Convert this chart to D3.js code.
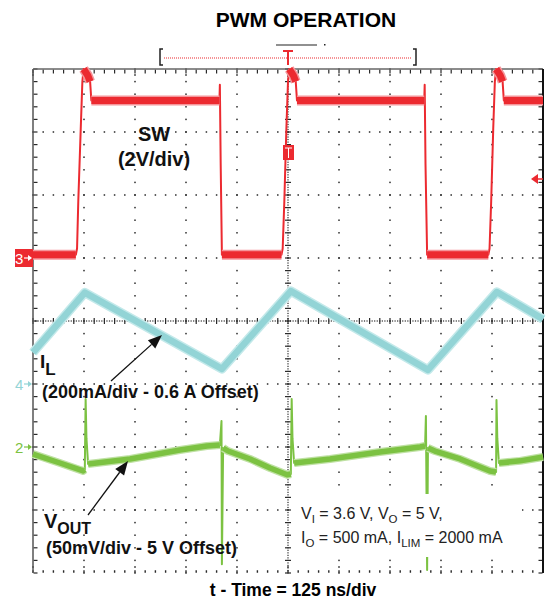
<!DOCTYPE html>
<html><head><meta charset="utf-8">
<script src="https://cdn.jsdelivr.net/npm/d3@7"></script>
<style>
body{margin:0;background:#fff;}
svg{display:block;font-family:"Liberation Sans",Arial,Helvetica,sans-serif;}
</style>
</head><body>
<svg id="c" width="552" height="612"></svg>
<script>
// ---------- data (time in ns, 125 ns/div) ----------
const swTime  = [0,105,108,111,117,121,124,134,140,143,457,458,460,463,609,612,616,621,625,628,638,644,647,959,960,962,966,1116,1119,1123,1128,1132,1135,1145,1151,1154,1250];
const swVolts = [0.1,0.1,0.3,1.8,4.1,5.6,6.0,5.8,5.6,5.0,5.0,5.5,3.0,0.1,0.1,0.3,1.8,4.1,5.6,6.0,5.8,5.6,5.0,5.0,5.5,3.0,0.1,0.1,0.3,1.8,4.1,5.6,6.0,5.8,5.6,5.0,5.0];

const ilTime = [0,127,463,632,968,1137,1250];
const ilAmps = [0.70,0.89,0.648,0.895,0.645,0.892,0.806];

const voTime = [0,66,123,127,129,131,135,238,360,426,458,462,463,466,478,532,581,623,632,634,636,640,728,850,949,961,963,966,968,985,1047,1120,1135,1136,1138,1142,1194,1250];
const voMilliVolts = [-5.6,-12.7,-19,-18,38,7,-13.5,-9.5,-2.4,0.8,1.6,20.6,-93,-0.8,-3.2,-9.5,-16.7,-22,-21.4,38,7,-12.7,-9.5,-4,0,0.8,24.6,-97.6,-0.8,-3.2,-9.5,-19,-19.8,37.3,7,-12.7,-11,-7.9];

const channelNames = ["3","4","2"];
const channelOffsetDiv = [1,-1,-2];   // ground / offset marker positions in divisions
const xDivisions = d3.range(0, 11);
const yDivisions = d3.range(-4, 5);

// ---------- scales ----------
const svg = d3.select("#c");
const L = 33, R = 543, T = 69, B = 573;
const xT = d3.scaleLinear().domain([0, 1250]).range([L, R]);
const xD = d3.scaleLinear().domain([0, 10]).range([L, R]);
const yD = d3.scaleLinear().domain([-4, 4]).range([B, T]);
const ySW = d3.scaleLinear().domain([0, 2]).range([yD(channelOffsetDiv[0]), yD(channelOffsetDiv[0] + 1)]);
const yIL = d3.scaleLinear().domain([0.6, 0.8]).range([yD(channelOffsetDiv[1]), yD(channelOffsetDiv[1] + 1)]);
const yVO = d3.scaleLinear().domain([0, 50]).range([yD(channelOffsetDiv[2]), yD(channelOffsetDiv[2] + 1)]);

// ---------- grid ----------
const g = svg.append("g");
const dotC = "#2a2a2a";
const minorX = d3.range(0, 10.001, 0.2);
const minorY = d3.range(-4, 4.001, 0.2);
function dot(px, py, w, h) {
  g.append("rect").attr("x", px - w/2).attr("y", py - h/2).attr("width", w).attr("height", h).attr("fill", dotC);
}
xDivisions.filter(d => d > 0 && d < 10 && d !== 5).forEach(d => {
  minorY.forEach(m => dot(xD(d), yD(m), 1.5, 1.5));
});
yDivisions.filter(d => d > -4 && d < 4 && d !== 0).forEach(d => {
  minorX.forEach(m => dot(xD(m), yD(d), 1.5, 1.5));
});
// centre lines
d3.range(0, 10.001, 0.05).forEach(m => dot(xD(m), yD(0), 1.2, 1.2));
minorX.forEach(m => dot(xD(m), yD(0), 1.2, 6));
d3.range(-4, 4.001, 0.04).forEach(m => dot(xD(5), yD(m), 1.2, 1.2));
minorY.forEach(m => dot(xD(5), yD(m), 6, 1.2));
// edges
minorX.forEach(m => { dot(xD(m), T + 2.5, 1.2, 4); dot(xD(m), B - 1.5, 1.4, 2.5); });
minorY.forEach(m => { dot(L + 2.5, yD(m), 4, 1.2); dot(R - 2.5, yD(m), 4, 1.2); });
xDivisions.forEach(d => { dot(xD(d), T + 6, 1.2, 2); dot(xD(d), B - 6, 1.2, 2); });
g.append("line").attr("x1", L).attr("x2", R).attr("y1", T).attr("y2", T).attr("stroke", "#666").attr("stroke-width", 1.5);
g.append("line").attr("x1", L).attr("x2", L).attr("y1", T).attr("y2", B).attr("stroke", "#555").attr("stroke-width", 1.5);
g.append("line").attr("x1", R).attr("x2", R).attr("y1", T).attr("y2", B).attr("stroke", "#111").attr("stroke-width", 2);

// ---------- traces ----------
const line = d3.line().x(d => d[0]).y(d => d[1]);
function drawTrace(pts, color, light, thinW, bandW, coreW, slopeMax) {
  const tg = svg.append("g").attr("fill", "none").attr("stroke-linejoin", "round");
  tg.append("path").attr("d", line(pts)).attr("stroke", color).attr("stroke-width", thinW);
  const runs = []; let cur = null;
  for (let i = 0; i < pts.length - 1; i++) {
    const a = pts[i], b = pts[i + 1];
    if (Math.abs(b[1] - a[1]) <= slopeMax * Math.abs(b[0] - a[0])) {
      if (!cur) { cur = [a]; runs.push(cur); }
      cur.push(b);
    } else cur = null;
  }
  runs.forEach(r => {
    tg.append("path").attr("d", line(r)).attr("stroke", light).attr("stroke-width", bandW).attr("stroke-linecap", "butt");
    tg.append("path").attr("d", line(r)).attr("stroke", color).attr("stroke-width", coreW).attr("stroke-linecap", "butt");
  });
}
drawTrace(swTime.map((t, i) => [xT(t), ySW(swVolts[i])]), "#ec2a30", "#f5959a", 2, 10, 7, 3);
drawTrace(ilTime.map((t, i) => [xT(t), yIL(ilAmps[i])]), "#93d4d6", "#c3e9ea", 2, 9.5, 6.5, 3);
drawTrace(voTime.map((t, i) => [xT(t), yVO(voMilliVolts[i])]), "#7cc242", "#bfe1a3", 2, 8, 5.5, 3);

// ---------- channel markers ----------
const mk = svg.append("g");
const markerColors = ["#ec2a30", "#93d4d6", "#7cc242"];
channelOffsetDiv.forEach((d, i) => {
  const yy = yD(d);
  const fg = i === 0 ? "#fff" : markerColors[i];
  if (i === 0) mk.append("rect").attr("x", 15).attr("y", yy - 9).attr("width", 18).attr("height", 18).attr("fill", markerColors[0]);
  mk.append("text").attr("x", 15).attr("y", yy + 5.5).attr("font-size", 15).attr("fill", fg).text(channelNames[i]);
  mk.append("line").attr("x1", 24).attr("x2", 31).attr("y1", yy).attr("y2", yy).attr("stroke", fg).attr("stroke-width", 1.2);
  mk.append("path").attr("d", `M32,${yy} L28,${yy - 3} L28,${yy + 3} Z`).attr("fill", fg);
});
// trigger level arrow (right) and trigger marker
mk.append("path").attr("d", "M531,179 L538,174 L538,184 Z").attr("fill", "#ec2a30");
mk.append("line").attr("x1", 536).attr("x2", 543).attr("y1", 179).attr("y2", 179).attr("stroke", "#ec2a30").attr("stroke-width", 1.5);
mk.append("rect").attr("x", 283).attr("y", 145).attr("width", 11).attr("height", 15).attr("fill", "#ec2a30");
mk.append("line").attr("x1", 285).attr("x2", 292).attr("y1", 148).attr("y2", 148).attr("stroke", "#fff").attr("stroke-width", 1);
mk.append("line").attr("x1", 288.5).attr("x2", 288.5).attr("y1", 148).attr("y2", 158).attr("stroke", "#fff").attr("stroke-width", 1);

// ---------- top record bar ----------
const recBar = svg.append("g");
recBar.append("path").attr("d", "M163,49 L160,49 L160,65 L163,65").attr("fill", "none").attr("stroke", "#222").attr("stroke-width", 1.5);
recBar.append("path").attr("d", "M413,49 L416,49 L416,65 L413,65").attr("fill", "none").attr("stroke", "#222").attr("stroke-width", 1.5);
recBar.append("line").attr("x1", 164).attr("x2", 412).attr("y1", 58).attr("y2", 58).attr("stroke", "#ec2a30").attr("stroke-width", 1.2).attr("stroke-dasharray", "1,1");
recBar.append("path").attr("d", "M283,51 L293,51 M288,51 L288,65").attr("stroke", "#ec2a30").attr("stroke-width", 2).attr("fill", "none");
recBar.append("line").attr("x1", 276).attr("x2", 317).attr("y1", 45).attr("y2", 45).attr("stroke", "#222").attr("stroke-width", 1.2);
recBar.append("rect").attr("x", 324).attr("y", 44).attr("width", 1.5).attr("height", 1.5).attr("fill", "#222");

// ---------- text ----------
svg.append("text").attr("x", 306).attr("y", 27).attr("text-anchor", "middle").attr("font-size", 21).attr("font-weight", "bold").text("PWM OPERATION");
svg.append("text").attr("x", 293).attr("y", 596).attr("text-anchor", "middle").attr("font-size", 17.5).attr("font-weight", "bold").text("t - Time = 125 ns/div");

const lab = svg.append("g").attr("font-weight", "bold").attr("fill", "#111");
lab.append("text").attr("x", 154).attr("y", 141).attr("text-anchor", "middle").attr("font-size", 20).text("SW");
lab.append("text").attr("x", 154).attr("y", 166).attr("text-anchor", "middle").attr("font-size", 20).text("(2V/div)");

const il = lab.append("text").attr("x", 40).attr("y", 368).attr("font-size", 19);
il.append("tspan").text("I");
il.append("tspan").attr("dy", 7).attr("font-size", 17).text("L");
lab.append("text").attr("x", 42).attr("y", 398).attr("font-size", 18).text("(200mA/div - 0.6 A Offset)");

const vo = lab.append("text").attr("x", 44).attr("y", 528).attr("font-size", 20);
vo.append("tspan").text("V");
vo.append("tspan").attr("dy", 6).attr("font-size", 16).text("OUT");
lab.append("text").attr("x", 46).attr("y", 554).attr("font-size", 18).text("(50mV/div - 5 V Offset)");

// arrows
function arrow(x1, y1, x2, y2) {
  const a = svg.append("g");
  const ang = Math.atan2(y2 - y1, x2 - x1), len = 14, hw = 5.5;
  const bx = x2 - len * Math.cos(ang), by = y2 - len * Math.sin(ang);
  a.append("line").attr("x1", x1).attr("y1", y1).attr("x2", bx).attr("y2", by).attr("stroke", "#111").attr("stroke-width", 1.3);
  const px = -Math.sin(ang) * hw, py = Math.cos(ang) * hw;
  a.append("path").attr("d", `M${x2},${y2} L${bx + px},${by + py} L${bx - px},${by - py} Z`).attr("fill", "#111");
}
arrow(111, 381, 162, 335);
arrow(88, 515, 128, 461);

// info box
svg.append("rect").attr("x", 292).attr("y", 494).attr("width", 230).attr("height", 63).attr("fill", "#fff");
const info = svg.append("g").attr("font-size", 16).attr("fill", "#222");
const l1 = info.append("text").attr("x", 301).attr("y", 519);
l1.append("tspan").text("V");
l1.append("tspan").attr("font-size", 11.5).attr("dy", 4).text("I");
l1.append("tspan").attr("dy", -4).text(" = 3.6 V, V");
l1.append("tspan").attr("font-size", 11.5).attr("dy", 4).text("O");
l1.append("tspan").attr("dy", -4).text(" = 5 V,");
const l2 = info.append("text").attr("x", 301).attr("y", 543);
l2.append("tspan").text("I");
l2.append("tspan").attr("font-size", 11.5).attr("dy", 4).text("O");
l2.append("tspan").attr("dy", -4).text(" = 500 mA, I");
l2.append("tspan").attr("font-size", 11.5).attr("dy", 4).text("LIM");
l2.append("tspan").attr("dy", -4).text(" = 2000 mA");
</script>
</body></html>
